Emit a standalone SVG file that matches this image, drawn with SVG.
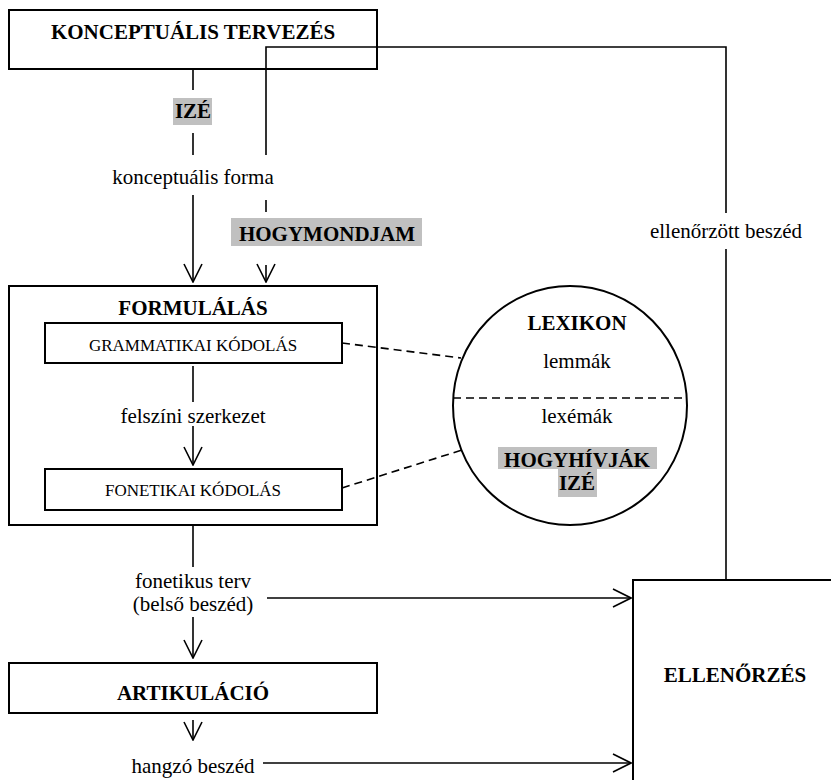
<svg xmlns="http://www.w3.org/2000/svg" width="831" height="780" viewBox="0 0 831 780">
<style>
.box{fill:#fff;stroke:#000;stroke-width:2}
.ln{fill:none;stroke:#000;stroke-width:1.6}
.dash{fill:none;stroke:#000;stroke-width:1.6;stroke-dasharray:8,5}
text{font-family:'Liberation Serif','Times New Roman',serif;font-size:21px;fill:#000;text-anchor:middle}
.b{font-weight:bold}
.s{font-size:17px}
.hl{fill:#c0c0c0}
</style>
<defs>
<marker id="ah" viewBox="0 0 20 20" markerUnits="userSpaceOnUse" markerWidth="20" markerHeight="20" refX="19" refY="10" orient="auto">
<path d="M1,1 L19,10 L1,19" fill="none" stroke="#000" stroke-width="1.6"/>
</marker>
</defs>
<rect width="831" height="780" fill="#fff"/>

<g id="konceptualis">
<rect class="box" x="9" y="10" width="368" height="59"/>
<text class="b" x="193" y="39">KONCEPTUÁLIS TERVEZÉS</text>
</g>

<g id="formulalas">
<rect class="box" x="9" y="286" width="368" height="239"/>
<text class="b" x="193" y="315">FORMULÁLÁS</text>
</g>
<g id="grammatikai">
<rect class="box" x="45" y="323" width="297" height="40"/>
<text class="s" x="193" y="351">GRAMMATIKAI KÓDOLÁS</text>
</g>
<g id="fonetikai">
<rect class="box" x="45" y="469" width="297" height="41"/>
<text class="s" x="193" y="496">FONETIKAI KÓDOLÁS</text>
</g>

<g id="lexikon">
<ellipse cx="570" cy="405.5" rx="117" ry="119.5" fill="#fff" stroke="#000" stroke-width="2"/>
<line class="dash" x1="453" y1="398" x2="687" y2="398"/>
<text class="b" x="577" y="330">LEXIKON</text>
<text x="577" y="368">lemmák</text>
<text x="577" y="423">lexémák</text>
<rect class="hl" x="498" y="447" width="159" height="22"/>
<rect class="hl" x="558" y="469" width="39" height="28"/>
<text class="b" x="577" y="467">HOGYHÍVJÁK</text>
<text class="b" x="577" y="490">IZÉ</text>
</g>

<g id="artikulacio">
<rect class="box" x="9" y="663" width="368" height="50"/>
<text class="b" x="193" y="700">ARTIKULÁCIÓ</text>
</g>

<g id="ellenorzes">
<rect class="box" x="633" y="580" width="210" height="210"/>
<text class="b" x="735" y="682">ELLENŐRZÉS</text>
</g>

<g id="connectors">
<line class="ln" x1="193" y1="69" x2="193" y2="90"/>
<line class="ln" x1="193" y1="133" x2="193" y2="155"/>
<line class="ln" x1="193" y1="195" x2="193" y2="282" marker-end="url(#ah)"/>
<polyline class="ln" points="266,155 266,47 726,47 726,213"/>
<line class="ln" x1="726" y1="249" x2="726" y2="580"/>
<line class="ln" x1="266" y1="200" x2="266" y2="212"/>
<line class="ln" x1="266" y1="265" x2="266" y2="282" marker-end="url(#ah)"/>
<line class="ln" x1="193" y1="366" x2="193" y2="402"/>
<line class="ln" x1="193" y1="426" x2="193" y2="465" marker-end="url(#ah)"/>
<line class="dash" x1="342" y1="343" x2="461" y2="358"/>
<line class="dash" x1="342" y1="488" x2="462" y2="450"/>
<line class="ln" x1="193" y1="525" x2="193" y2="567"/>
<line class="ln" x1="193" y1="617" x2="193" y2="658" marker-end="url(#ah)"/>
<line class="ln" x1="267" y1="598" x2="631" y2="598" marker-end="url(#ah)"/>
<line class="ln" x1="193" y1="720" x2="193" y2="740" marker-end="url(#ah)"/>
<line class="ln" x1="263" y1="763" x2="631" y2="763" marker-end="url(#ah)"/>
<rect class="hl" x="173" y="98" width="39" height="27"/>
<text class="b" x="193" y="118">IZÉ</text>
<text x="193" y="184">konceptuális forma</text>
<rect class="hl" x="231" y="218" width="191" height="28"/>
<text class="b" x="327" y="241">HOGYMONDJAM</text>
<text x="726" y="238">ellenőrzött beszéd</text>
<text x="193" y="423">felszíni szerkezet</text>
<text x="193" y="588">fonetikus terv</text>
<text x="193" y="611">(belső beszéd)</text>
<text x="193" y="773">hangzó beszéd</text>
</g>
</svg>
